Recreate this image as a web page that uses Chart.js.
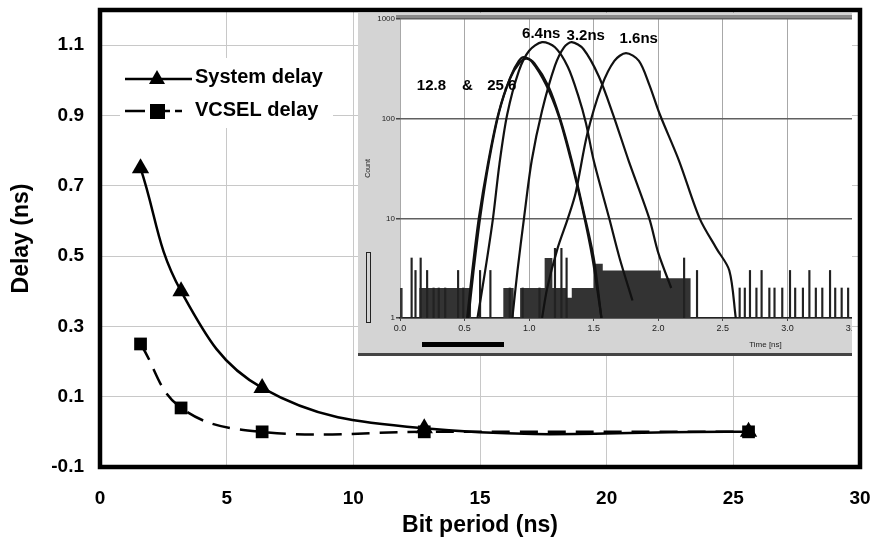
<!DOCTYPE html>
<html lang="en">
<head>
    <meta charset="UTF-8">
    <title>Delay vs bit period</title>
    <script src="https://cdn.jsdelivr.net/npm/chart.js"></script>
    <style>
        body {
            margin: 0;
            background-color: #ffffff;
        }
        .wrap {
            position: relative;
            width: 873px;
            height: 539px;
        }
        #inset-box {
            position: absolute;
            left: 358px;
            top: 13px;
            width: 494px;
            height: 343px;
        }
    </style>
</head>
<body>
    <div class="wrap">
        <canvas id="main-chart" width="873" height="539"></canvas>
        <div id="inset-box">
            <canvas id="inset-chart" width="494" height="343"></canvas>
        </div>
    </div>

    <script>
        // Main chart data
        const bitPeriods = [1.6, 3.2, 6.4, 12.8, 25.6];
        const systemDelay = [0.75, 0.40, 0.125, 0.01, 0.0];
        const vcselDelay = [0.25, 0.068, 0.0, 0.0, 0.0];
        const delayTicks = [-0.1, 0.1, 0.3, 0.5, 0.7, 0.9, 1.1];
        const periodTicks = [0, 5, 10, 15, 20, 25, 30];

        // Inset histogram
        const countTicks = [1, 10, 100, 1000];
        const timeTicks = [0, 0.5, 1.0, 1.5, 2.0, 2.5, 3.0, 3.5];
        const t128 = [0.52, 0.56, 0.61, 0.68, 0.76, 0.85, 0.93, 0.98, 1.04, 1.15, 1.24, 1.33, 1.42, 1.5, 1.56];
        const c128 = [1, 3, 10, 35, 110, 250, 370, 400, 360, 210, 100, 38, 12, 4, 1];
        const t256 = [0.53, 0.57, 0.62, 0.69, 0.77, 0.86, 0.92, 0.96, 1.02, 1.13, 1.23, 1.32, 1.41, 1.49, 1.56];
        const c256 = [1, 3, 10, 38, 120, 270, 380, 415, 375, 220, 105, 40, 13, 4, 1];
        const t64 = [0.6, 0.66, 0.72, 0.77, 0.83, 0.92, 1.0, 1.1, 1.2, 1.3, 1.38, 1.44, 1.5, 1.62, 1.7, 1.8];
        const c64 = [1, 3, 10, 35, 110, 300, 480, 585, 520, 330, 170, 90, 38, 10, 4, 1.5];
        const t32 = [0.87, 0.91, 0.96, 1.02, 1.1, 1.2, 1.27, 1.33, 1.42, 1.54, 1.65, 1.77, 1.93, 2.0, 2.1];
        const c32 = [1, 3, 10, 38, 120, 340, 520, 585, 500, 265, 110, 38, 10, 4.5, 2];
        const t16 = [1.1, 1.14, 1.22, 1.3, 1.36, 1.45, 1.56, 1.66, 1.75, 1.85, 1.93, 2.01, 2.16, 2.32, 2.45, 2.55, 2.6];
        const c16 = [1, 2, 5, 10, 18, 70, 210, 380, 455, 380, 220, 112, 38, 10, 5, 3, 1];
        const noiseTime = [0, 0.02, 0.15, 0.55, 0.8, 0.88, 0.93, 1.12, 1.18, 1.29, 1.33, 1.5, 1.57, 2.02, 2.25, 2.6, 3.5];
        const noiseCount = [1, 2, 1, 2, 1, 2, 1, 2, 4, 2, 1.6, 2, 3.5, 3, 2.5, 1, 1];
        const spikeTime = [0.09, 0.12, 0.16, 0.21, 0.26, 0.3, 0.35, 0.45, 0.49, 0.62, 0.7, 0.85, 0.95, 1.08, 1.2, 1.25, 1.29, 2.2, 2.3,
            2.63, 2.67, 2.71, 2.76, 2.8, 2.86, 2.9, 2.96, 3.02, 3.06, 3.12, 3.17, 3.22, 3.27, 3.33, 3.37, 3.42, 3.47];
        const spikeCount = [4, 3, 4, 3, 2, 2, 2, 3, 2, 3, 3, 2, 2, 2, 5, 5, 4, 4, 3,
            2, 2, 3, 2, 3, 2, 2, 2, 3, 2, 2, 3, 2, 2, 3, 2, 2, 2];

        const FONT = 'Arial, "Liberation Sans", sans-serif';
        Chart.defaults.font.family = FONT;

        function pairs(xs, ys) {
            return xs.map((x, i) => ({ x: x, y: ys[i] }));
        }

        // white box + thick frame + legend on the main chart
        const mainDecor = {
            id: 'mainDecor',
            afterDatasetsDraw(chart) {
                const ctx = chart.ctx;
                const a = chart.chartArea;
                ctx.save();
                ctx.fillStyle = '#ffffff';
                ctx.fillRect(120, 58, 213, 70);

                ctx.strokeStyle = '#000';
                ctx.fillStyle = '#000';
                ctx.lineWidth = 2.5;
                // System delay item
                ctx.beginPath();
                ctx.moveTo(125, 79);
                ctx.lineTo(192, 79);
                ctx.stroke();
                ctx.beginPath();
                ctx.moveTo(157, 70);
                ctx.lineTo(165, 84);
                ctx.lineTo(149, 84);
                ctx.closePath();
                ctx.fill();
                // VCSEL delay item
                ctx.setLineDash([20, 5]);
                ctx.beginPath();
                ctx.moveTo(125, 111);
                ctx.lineTo(182, 111);
                ctx.stroke();
                ctx.setLineDash([]);
                ctx.fillRect(150, 104, 15, 15);

                ctx.font = 'bold 20px ' + FONT;
                ctx.textBaseline = 'middle';
                ctx.fillText('System delay', 195, 77);
                ctx.fillText('VCSEL delay', 195, 110);

                ctx.lineWidth = 4.5;
                ctx.strokeRect(a.left, a.top, a.right - a.left, a.bottom - a.top);
                ctx.restore();
            }
        };

        new Chart(document.getElementById('main-chart'), {
            type: 'line',
            data: {
                datasets: [{
                    label: 'System delay',
                    data: pairs(bitPeriods, systemDelay),
                    borderColor: '#000',
                    backgroundColor: '#000',
                    borderWidth: 2.5,
                    tension: 0.4,
                    pointStyle: 'triangle',
                    pointRadius: 10,
                    pointBorderWidth: 0
                }, {
                    label: 'VCSEL delay',
                    data: pairs(bitPeriods, vcselDelay),
                    borderColor: '#000',
                    backgroundColor: '#000',
                    borderWidth: 2.5,
                    borderDash: [18, 10],
                    tension: 0.4,
                    pointStyle: 'rect',
                    pointRadius: 9,
                    pointBorderWidth: 0
                }]
            },
            options: {
                responsive: false,
                animation: false,
                layout: { padding: { top: 10, right: 13, left: 0, bottom: 0 } },
                plugins: { legend: { display: false }, tooltip: { enabled: false } },
                scales: {
                    x: {
                        type: 'linear',
                        min: 0,
                        max: 30,
                        afterBuildTicks: (axis) => { axis.ticks = periodTicks.map(v => ({ value: v })); },
                        afterFit: (s) => { s.height = 72; s.paddingLeft = 0; s.paddingRight = 0; },
                        ticks: {
                            color: '#000',
                            font: { size: 19, weight: 'bold' },
                            padding: 20,
                            maxRotation: 0,
                            autoSkip: false,
                            callback: (v) => String(v)
                        },
                        grid: { color: '#c8c8c8', lineWidth: 1, drawTicks: false },
                        border: { display: false },
                        title: {
                            display: true,
                            text: 'Bit period (ns)',
                            color: '#000',
                            font: { size: 23, weight: 'bold' },
                            padding: { top: 0, bottom: 0 }
                        }
                    },
                    y: {
                        min: -0.1,
                        max: 1.2,
                        afterBuildTicks: (axis) => { axis.ticks = delayTicks.map(v => ({ value: v })); },
                        afterFit: (s) => { s.width = 100; s.paddingTop = 0; s.paddingBottom = 0; },
                        ticks: {
                            color: '#000',
                            font: { size: 19, weight: 'bold' },
                            padding: 16,
                            callback: (v) => v.toFixed(1)
                        },
                        grid: { color: '#c8c8c8', lineWidth: 1, drawTicks: false },
                        border: { display: false },
                        title: {
                            display: true,
                            text: 'Delay (ns)',
                            color: '#000',
                            font: { size: 23, weight: 'bold' },
                            padding: { top: 8, bottom: 0 }
                        }
                    }
                }
            },
            plugins: [mainDecor]
        });

        // inset: gray frame, white plot, labels
        const insetLabels = [
            { text: '6.4ns', t: 0.945, c: 640 },
            { text: '3.2ns', t: 1.29, c: 610 },
            { text: '1.6ns', t: 1.70, c: 570 },
            { text: '12.8', t: 0.13, c: 194 },
            { text: '&', t: 0.48, c: 194 },
            { text: '25.6', t: 0.675, c: 194 }
        ];

        const insetDecor = {
            id: 'insetDecor',
            beforeDraw(chart) {
                const ctx = chart.ctx;
                const a = chart.chartArea;
                ctx.save();
                ctx.fillStyle = '#d4d4d4';
                ctx.fillRect(0, 0, chart.width, chart.height);
                ctx.fillStyle = '#ffffff';
                ctx.fillRect(a.left, a.top, a.right - a.left, a.bottom - a.top);
                ctx.fillStyle = '#8a8a8a';
                ctx.fillRect(a.left - 4, 2, a.right - a.left + 4, 4);
                ctx.restore();
            },
            afterDraw(chart) {
                const ctx = chart.ctx;
                const xs = chart.scales.x;
                const ys = chart.scales.y;
                ctx.save();
                // scroll markers of the acquisition window
                ctx.strokeStyle = '#222';
                ctx.lineWidth = 1;
                ctx.strokeRect(8.5, 239.5, 4, 70);
                ctx.fillStyle = '#000';
                ctx.fillRect(64, 329, 82, 5);
                ctx.fillStyle = '#444';
                ctx.fillRect(0, chart.height - 3, chart.width, 3);

                ctx.fillStyle = '#222';
                ctx.font = '8px ' + FONT;
                ctx.textAlign = 'center';
                ctx.textBaseline = 'middle';
                ctx.fillText('Time [ns]', xs.getPixelForValue(2.83), 332);

                ctx.fillStyle = '#000';
                ctx.font = 'bold 15px ' + FONT;
                ctx.textAlign = 'left';
                ctx.textBaseline = 'alphabetic';
                insetLabels.forEach(l => {
                    ctx.fillText(l.text, xs.getPixelForValue(l.t), ys.getPixelForValue(l.c));
                });
                ctx.restore();
            }
        };

        function curve(xs, ys) {
            return {
                type: 'line',
                data: pairs(xs, ys),
                borderColor: '#111',
                borderWidth: 2.2,
                pointRadius: 0,
                tension: 0.3,
                fill: false
            };
        }

        new Chart(document.getElementById('inset-chart'), {
            type: 'line',
            data: {
                datasets: [
                    curve(t128, c128),
                    curve(t256, c256),
                    curve(t64, c64),
                    curve(t32, c32),
                    curve(t16, c16),
                    {
                        type: 'bar',
                        data: pairs(spikeTime, spikeCount),
                        backgroundColor: '#222',
                        barThickness: 1.5,
                        grouped: false
                    },
                    {
                        type: 'line',
                        data: pairs(noiseTime, noiseCount),
                        stepped: 'after',
                        borderWidth: 0,
                        pointRadius: 0,
                        backgroundColor: '#333',
                        fill: 'start'
                    }
                ]
            },
            options: {
                responsive: false,
                animation: false,
                layout: { padding: { top: 6, right: 0, left: 0, bottom: 0 } },
                plugins: { legend: { display: false }, tooltip: { enabled: false } },
                scales: {
                    x: {
                        type: 'linear',
                        min: 0,
                        max: 3.5,
                        offset: false,
                        afterBuildTicks: (axis) => { axis.ticks = timeTicks.map(v => ({ value: v })); },
                        afterFit: (s) => { s.height = 38; s.paddingLeft = 0; s.paddingRight = 0; },
                        ticks: {
                            color: '#222',
                            font: { size: 9 },
                            padding: 2,
                            maxRotation: 0,
                            autoSkip: false,
                            callback: (v) => v.toFixed(1)
                        },
                        grid: { color: '#a8a8a8', lineWidth: 1, tickLength: 3, tickColor: '#444', offset: false },
                        border: { display: true, color: '#222', width: 1.5 }
                    },
                    y: {
                        type: 'logarithmic',
                        min: 1,
                        max: 1000,
                        afterBuildTicks: (axis) => { axis.ticks = countTicks.map(v => ({ value: v })); },
                        afterFit: (s) => { s.width = 42; s.paddingTop = 0; s.paddingBottom = 0; },
                        ticks: {
                            color: '#222',
                            font: { size: 8 },
                            padding: 1,
                            callback: (v) => String(v)
                        },
                        grid: { color: '#606060', lineWidth: 1.5, tickLength: 4, tickColor: '#444' },
                        border: { display: false },
                        title: {
                            display: true,
                            text: 'Count',
                            color: '#222',
                            font: { size: 7 },
                            padding: { top: 6, bottom: 0 }
                        }
                    }
                }
            },
            plugins: [insetDecor]
        });
    </script>
</body>
</html>
